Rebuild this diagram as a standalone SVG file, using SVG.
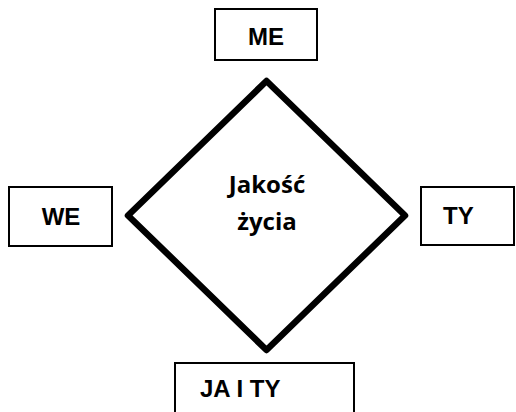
<svg xmlns="http://www.w3.org/2000/svg" width="516" height="412" viewBox="0 0 516 412">
<style>
.box{fill:#fff;stroke:#000;stroke-width:2}
.lbl{font-family:"Liberation Sans",Arial,sans-serif;font-weight:bold;font-size:24px;fill:#000}
.ctr{font-family:"Open Sans","Noto Sans",sans-serif;font-weight:bold;font-size:24px;fill:#000;text-anchor:middle}
</style>
<rect width="516" height="412" fill="#fff"/>
<g id="connectors">
<polygon points="266.5,81 405,215.5 266.5,350 128,215.5" fill="none" stroke="#000" stroke-width="6.5" stroke-linejoin="round"/>
</g>
<g id="center">
<text class="ctr" x="267" y="193">Jakość</text>
<text class="ctr" x="267" y="230">życia</text>
</g>
<g id="me">
<rect class="box" x="215" y="9" width="102" height="51"/>
<text class="lbl" x="266" y="45" text-anchor="middle">ME</text>
</g>
<g id="we">
<rect class="box" x="9" y="187" width="103" height="59"/>
<text class="lbl" x="61" y="225" text-anchor="middle">WE</text>
</g>
<g id="ty">
<rect class="box" x="421" y="187" width="93" height="58"/>
<text class="lbl" x="443" y="224">TY</text>
</g>
<g id="jaity">
<rect class="box" x="175" y="363" width="179" height="60"/>
<text class="lbl" x="200" y="397">JA I TY</text>
</g>
</svg>
